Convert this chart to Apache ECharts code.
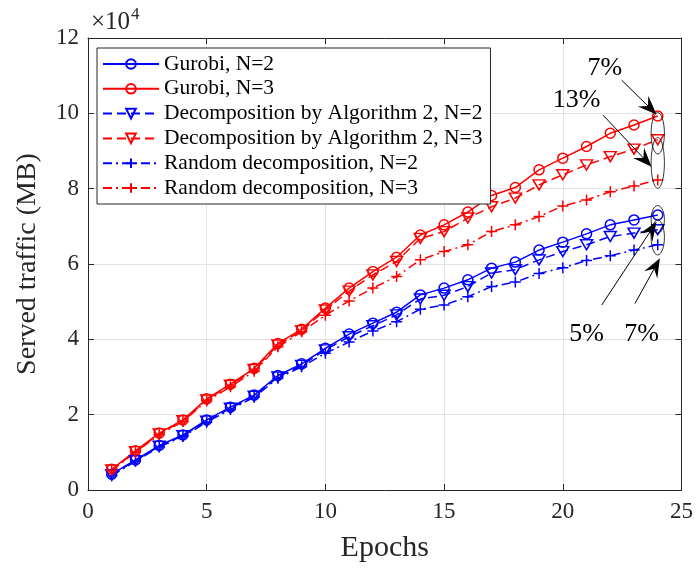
<!DOCTYPE html>
<html>
<head>
<meta charset="utf-8">
<script src="https://cdn.jsdelivr.net/npm/echarts@6/dist/echarts.min.js"></script>
<style>
html,body{margin:0;padding:0;background:#fff;}
#chart{width:696px;height:568px;}
</style>
</head>
<body>
<div id="chart"></div>
<script>
// Values in units of 10^4 MB
var epochs = [1,2,3,4,5,6,7,8,9,10,11,12,13,14,15,16,17,18,19,20,21,22,23,24];
var gurobiN2 = [0.42,0.80,1.18,1.46,1.86,2.20,2.52,3.04,3.35,3.76,4.14,4.43,4.72,5.18,5.36,5.58,5.89,6.05,6.37,6.58,6.80,7.04,7.17,7.30];
var gurobiN3 = [0.55,1.04,1.51,1.86,2.42,2.81,3.23,3.89,4.27,4.83,5.36,5.80,6.18,6.77,7.04,7.38,7.82,8.03,8.50,8.81,9.12,9.47,9.69,9.93];
var decompN2 = [0.40,0.78,1.16,1.44,1.83,2.17,2.49,3.00,3.31,3.72,4.07,4.36,4.65,5.07,5.17,5.40,5.76,5.85,6.11,6.33,6.51,6.73,6.82,6.91];
var decompN3 = [0.53,1.02,1.49,1.84,2.39,2.78,3.20,3.85,4.23,4.78,5.28,5.71,6.07,6.68,6.86,7.22,7.52,7.75,8.10,8.37,8.63,8.85,9.05,9.30];
var randomN2 = [0.38,0.76,1.14,1.42,1.80,2.14,2.46,2.97,3.27,3.63,3.93,4.22,4.47,4.80,4.91,5.13,5.40,5.52,5.75,5.90,6.09,6.22,6.37,6.51];
var randomN3 = [0.52,1.00,1.47,1.82,2.36,2.74,3.15,3.80,4.20,4.64,5.02,5.36,5.67,6.11,6.33,6.51,6.86,7.04,7.26,7.54,7.70,7.92,8.07,8.23];
var seriesNames = ['Gurobi, N=2','Gurobi, N=3','Decomposition by Algorithm 2, N=2','Decomposition by Algorithm 2, N=3','Random decomposition, N=2','Random decomposition, N=3'];
var xTicks = [0,5,10,15,20,25];
var yTicks = [0,2,4,6,8,10,12];

// annotations (data coordinates)
var ellipses = [ // [x, yLow, yHigh]
  [24, 8.92, 10.02],
  [24, 8.01, 9.36],
  [24, 6.82, 7.55],
  [24, 6.24, 7.17]
];
var arrows = [ // [x1,y1,x2,y2]
  [22.48,10.88,23.95,9.97],
  [21.70,9.95,23.74,8.58],
  [21.64,4.91,23.95,7.12],
  [23.04,4.95,24.09,6.15]
];
var arrowLabels = [ // [text, x, y]
  ['7%',21.77,11.19],
  ['13%',20.58,10.34],
  ['5%',21.0,4.14],
  ['7%',23.32,4.14]
];

var BLUE = '#0000ff', RED = '#ff0000';
var FONT = 'Liberation Serif';
var TRI = 'path://M0,0L12,0L6,10.4Z';
var PLUS = 'path://M5,0L5,10M0,5L10,5';
var CIRC = 'path://M10,5A5,5,0,1,1,0,5A5,5,0,1,1,10,5Z';

function pairs(vals){ return epochs.map(function(e,i){ return [e, vals[i]]; }); }

function mkSeries(name, vals, color, symbol, dash, size){
  var ls = {color: color, width: 1.5};
  if (dash) ls.type = dash;
  return {
    name: name, type: 'line', data: pairs(vals),
    symbol: symbol, symbolSize: size,
    showAllSymbol: true,
    lineStyle: ls,
    itemStyle: {color: 'rgba(255,255,255,0)', borderColor: color, borderWidth: 1.5},
    emphasis: {disabled: true},
    animation: false,
    z: 3
  };
}

var chart = echarts.init(document.getElementById('chart'), null, {renderer: 'canvas'});
var gridL = 88, gridR = 14, gridT = 38, gridB = 78;
var axisColor = '#262626';

var option = {
  animation: false,
  backgroundColor: '#fff',
  grid: {left: gridL, right: gridR, top: gridT, bottom: gridB, containLabel: false},
  xAxis: [{
    type: 'value', min: 0, max: 25, interval: 5,
    name: 'Epochs', nameLocation: 'middle', nameGap: 43,
    nameTextStyle: {fontFamily: FONT, fontSize: 30, color: axisColor},
    axisLine: {show: true, onZero: false, lineStyle: {color: axisColor, width: 1}},
    axisTick: {show: true, inside: true, length: 6, lineStyle: {color: axisColor}},
    axisLabel: {fontFamily: FONT, fontSize: 23, color: axisColor, margin: 10},
    splitLine: {show: true, lineStyle: {color: '#e3e3e3', width: 1}}
  },{
    type: 'value', min: 0, max: 25, interval: 5, position: 'top',
    axisLine: {show: true, onZero: false, lineStyle: {color: axisColor, width: 1}},
    axisTick: {show: true, inside: true, length: 6, lineStyle: {color: axisColor}},
    axisLabel: {show: false}, splitLine: {show: false}
  }],
  yAxis: [{
    type: 'value', min: 0, max: 12, interval: 2,
    name: 'Served traffic (MB)', nameLocation: 'middle', nameGap: 46,
    nameTextStyle: {fontFamily: FONT, fontSize: 28, color: axisColor},
    axisLine: {show: true, onZero: false, lineStyle: {color: axisColor, width: 1}},
    axisTick: {show: true, inside: true, length: 6, lineStyle: {color: axisColor}},
    axisLabel: {fontFamily: FONT, fontSize: 23, color: axisColor, margin: 9},
    splitLine: {show: true, lineStyle: {color: '#e3e3e3', width: 1}}
  },{
    type: 'value', min: 0, max: 12, interval: 2, position: 'right',
    axisLine: {show: true, onZero: false, lineStyle: {color: axisColor, width: 1}},
    axisTick: {show: true, inside: true, length: 6, lineStyle: {color: axisColor}},
    axisLabel: {show: false}, splitLine: {show: false}
  }],
  legend: {
    orient: 'vertical', left: 97, top: 48,
    backgroundColor: '#ffffff', borderColor: '#262626', borderWidth: 1,
    padding: [5, 8, 5, 5],
    itemWidth: 56, itemHeight: 12, itemGap: 2.8,
    textStyle: {fontFamily: FONT, fontSize: 21.5, color: '#000', lineHeight: 20},
    data: seriesNames
  },
  series: [
    mkSeries(seriesNames[0], gurobiN2, BLUE, CIRC, null, 10),
    mkSeries(seriesNames[1], gurobiN3, RED, CIRC, null, 10),
    mkSeries(seriesNames[2], decompN2, BLUE, TRI, [9,5], [12,10]),
    mkSeries(seriesNames[3], decompN3, RED, TRI, [9,5], [12,10]),
    mkSeries(seriesNames[4], randomN2, BLUE, PLUS, [9,4,2,4], 11),
    mkSeries(seriesNames[5], randomN3, RED, PLUS, [9,4,2,4], 11)
  ]
};
chart.setOption(option);

function px(x, y){ return chart.convertToPixel({xAxisIndex: 0, yAxisIndex: 0}, [x, y]); }

var g = [];
g.push({
  type: 'text', left: 91, top: 6, z: 10,
  style: {
    text: '{a|×10}{b|4}',
    rich: {
      a: {fontFamily: FONT, fontSize: 25, fill: axisColor, verticalAlign: 'bottom', lineHeight: 26},
      b: {fontFamily: FONT, fontSize: 17, fill: axisColor, verticalAlign: 'top', padding: [0,0,12,1]}
    }
  }
});
ellipses.forEach(function(e){
  var c1 = px(e[0], e[1]), c2 = px(e[0], e[2]);
  var cx = c1[0], cy = (c1[1] + c2[1]) / 2, ry = Math.abs(c1[1] - c2[1]) / 2;
  var c3 = px(e[0] + 0.28, e[1]);
  var rx = Math.abs(c3[0] - c1[0]);
  g.push({type: 'ellipse', shape: {cx: cx, cy: cy, rx: rx, ry: ry}, style: {fill: null, stroke: '#000', lineWidth: 0.8}, z: 10, silent: true});
});
arrows.forEach(function(a){
  var p1 = px(a[0], a[1]), p2 = px(a[2], a[3]);
  var dx = p2[0] - p1[0], dy = p2[1] - p1[1];
  var L = Math.sqrt(dx*dx + dy*dy); var ux = dx/L, uy = dy/L; var nx = -uy, ny = ux;
  var hl = 19, hw = 7.5, notch = 12;
  var base = [p2[0] - ux*notch, p2[1] - uy*notch];
  g.push({type: 'line', shape: {x1: p1[0], y1: p1[1], x2: base[0], y2: base[1]}, style: {stroke: '#000', lineWidth: 1}, z: 10, silent: true});
  g.push({type: 'polygon', shape: {points: [
    [p2[0], p2[1]],
    [p2[0] - ux*hl + nx*hw, p2[1] - uy*hl + ny*hw],
    base,
    [p2[0] - ux*hl - nx*hw, p2[1] - uy*hl - ny*hw]
  ]}, style: {fill: '#000'}, z: 10, silent: true});
});
arrowLabels.forEach(function(t){
  var p = px(t[1], t[2]);
  g.push({type: 'text', x: p[0], y: p[1], z: 10, silent: true,
    style: {text: t[0], fontFamily: FONT, fontSize: 26, fill: '#000', align: 'center', verticalAlign: 'middle'}});
});
chart.setOption({graphic: g});
</script>
</body>
</html>
